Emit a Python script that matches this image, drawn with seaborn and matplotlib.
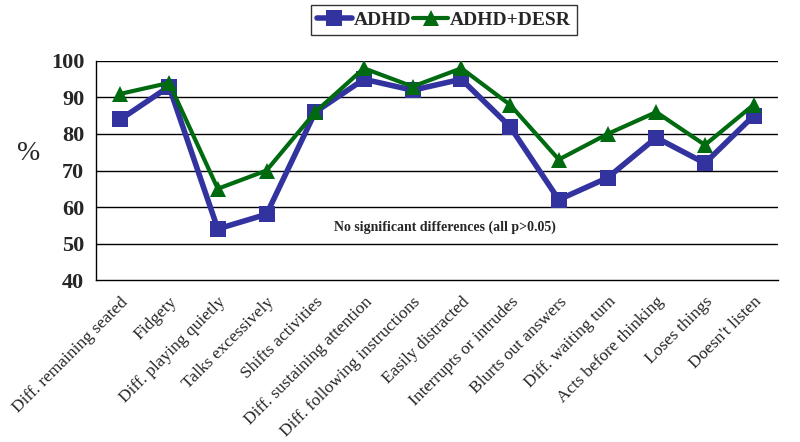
import numpy as np
import pandas as pd
import matplotlib.pyplot as plt
import seaborn as sns

categories = ["Diff. remaining seated", "Fidgety", "Diff. playing quietly", "Talks excessively",
              "Shifts activities", "Diff. sustaining attention", "Diff. following instructions",
              "Easily distracted", "Interrupts or intrudes", "Blurts out answers",
              "Diff. waiting turn", "Acts before thinking", "Loses things", "Doesn't listen"]
adhd = [84, 93, 54, 58, 86, 95, 92, 95, 82, 62, 68, 79, 72, 85]
adhd_desr = [91, 94, 65, 70, 86, 98, 93, 98, 88, 73, 80, 86, 77, 88]
yticks = [40, 50, 60, 70, 80, 90, 100]

df = pd.DataFrame({"symptom": categories * 2,
                   "pct": adhd + adhd_desr,
                   "group": ["ADHD"] * len(adhd) + ["ADHD+DESR"] * len(adhd_desr)})

sns.set_style("white")
plt.rcParams['font.family'] = ['Liberation Serif', 'DejaVu Serif']

fig = plt.figure(figsize=(8, 4.42), dpi=100)
ax = fig.add_axes([0.12, 0.3665, 0.8525, 0.4955])

# horizontal gridlines
for y in yticks[1:]:
    ax.axhline(y, color='black', lw=1, zorder=0)

sns.lineplot(data=df[df.group == "ADHD"], x="symptom", y="pct", sort=False, color='#3333a0',
             marker='s', markersize=12, markeredgewidth=0, lw=4, ax=ax, label="ADHD")
sns.lineplot(data=df[df.group == "ADHD+DESR"], x="symptom", y="pct", sort=False, color='#006a10',
             marker='^', markersize=12, markeredgewidth=0, lw=3, ax=ax, label="ADHD+DESR")

ax.set_xlim(-0.5, len(categories) - 0.5)
ax.set_ylim(40, 100)
ax.set_yticks(yticks)
ax.set_yticklabels([str(v) for v in yticks], fontsize=16, fontweight='bold')
ax.set_xticks(range(len(categories)))
ax.set_xticklabels(categories, rotation=45, ha='right', rotation_mode='anchor', fontsize=12.5)
ax.set_xticks(np.arange(-0.5, len(categories)), minor=True)
ax.tick_params(axis='x', which='major', length=0, pad=10)
ax.tick_params(axis='x', which='minor', length=5, direction='out', color='black', width=1)
ax.tick_params(axis='y', length=5, direction='out', color='black', width=1)
ax.set_xlabel("")
ax.set_ylabel("")
for s in ['top', 'right']:
    ax.spines[s].set_visible(False)
for s in ['left', 'bottom']:
    ax.spines[s].set_color('black')
    ax.spines[s].set_linewidth(1)

fig.text(0.036, 0.652, "%", fontsize=20, ha='center', va='center')
ax.text(0.512, 0.242, "No significant differences (all p>0.05)", transform=ax.transAxes,
        ha='center', va='center', fontsize=10, fontweight='bold')

ax.get_legend().remove()
h, l = ax.get_legend_handles_labels()
leg = fig.legend(h, l, loc='center', bbox_to_anchor=(0.555, 0.955), ncol=2, frameon=True,
                 fancybox=False, edgecolor='black', handlelength=1.8, handletextpad=0.1,
                 columnspacing=0.1, borderpad=0.3, prop={'weight': 'bold', 'size': 14})
leg.get_frame().set_linewidth(1)

fig.savefig("out.png", dpi=100)
